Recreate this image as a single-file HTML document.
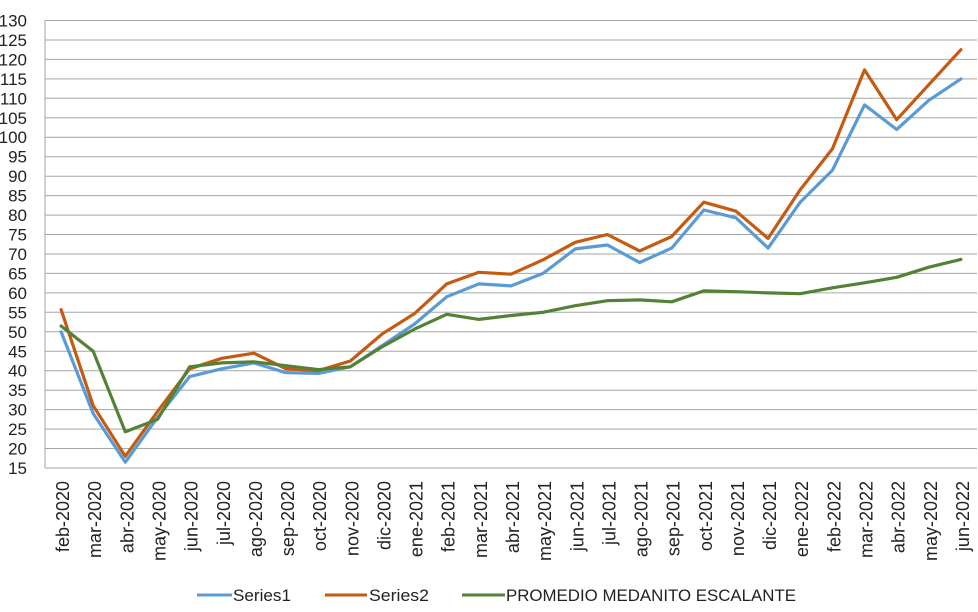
<!DOCTYPE html>
<html><head><meta charset="utf-8"><style>
body{margin:0;background:#fff}
svg{display:block;font-family:"Liberation Sans",sans-serif}
</style></head><body>
<svg id="c" width="978" height="612" xmlns="http://www.w3.org/2000/svg"></svg>
<script>
const s=document.getElementById('c');
const L=45,R=977,T=20.5,B=468;
const y=v=>T+(130-v)*(B-T)/115;
const n=29,cw=(R-L)/n,x=i=>L+cw*(i+0.5);
let h='';
for(let v=15;v<=130;v+=5){const yy=y(v).toFixed(1);
h+=`<line x1="${L}" x2="${R}" y1="${yy}" y2="${yy}" stroke="#a6a6a6" stroke-width="1"/>`;
h+=`<text x="27" y="${(+yy+6).toFixed(1)}" font-size="17" text-anchor="end" fill="#222">${v}</text>`;}
h+=`<line x1="${L}" x2="${L}" y1="${T}" y2="${B}" stroke="#a6a6a6"/>`;
const m=['feb','mar','abr','may','jun','jul','ago','sep','oct','nov','dic','ene'];
const labs=[];let mi=0,yr=2020;
for(let i=0;i<n;i++){labs.push(m[mi]+'-'+yr);mi++;if(mi==11)yr++;if(mi==12)mi=0;}
labs.forEach((t,i)=>{const xx=x(i)+8;h+=`<text transform="translate(${xx.toFixed(1)},481) rotate(-90)" font-size="18" text-anchor="end" fill="#222">${t}</text>`;});
const s1=[50,29,16.5,28,38.5,40.5,42,39.5,39.3,41,46.5,52,59,62.3,61.8,65,71.3,72.3,67.8,71.5,81.3,79.3,71.5,83.3,91.5,108.3,102,109.5,115];
const s2=[55.7,31,18,29.5,40.5,43.2,44.5,40.5,40,42.5,49.5,54.7,62.3,65.3,64.8,68.5,73,75,70.8,74.5,83.3,81,74,86.5,97,117.3,104.5,113.5,122.5];
const s3=[51.5,45,24.3,27.5,41,42,42.3,41.3,40.3,41,46.2,50.7,54.5,53.2,54.2,55,56.7,58,58.2,57.7,60.5,60.3,60,59.8,61.3,62.6,64,66.6,68.6];
const pl=(d,c)=>`<polyline fill="none" stroke="${c}" stroke-width="3.2" stroke-linejoin="round" stroke-linecap="round" points="${d.map((v,i)=>x(i).toFixed(1)+','+y(v).toFixed(1)).join(' ')}"/>`;
h+=pl(s1,'#5b9bd5')+pl(s2,'#c55a11')+pl(s3,'#548235');
const ta='lengthAdjust="spacingAndGlyphs"';
h+=`<line x1="197" x2="232" y1="595" y2="595" stroke="#5b9bd5" stroke-width="3"/><text x="233" y="601" font-size="17" fill="#222" textLength="58" ${ta}>Series1</text>`;
h+=`<line x1="325" x2="367" y1="595" y2="595" stroke="#c55a11" stroke-width="3"/><text x="369" y="601" font-size="17" fill="#222" textLength="60" ${ta}>Series2</text>`;
h+=`<line x1="462" x2="505" y1="595" y2="595" stroke="#548235" stroke-width="3"/><text x="506" y="601" font-size="17" fill="#222" textLength="290" ${ta}>PROMEDIO MEDANITO ESCALANTE</text>`;
s.innerHTML=h;
</script>
</body></html>
